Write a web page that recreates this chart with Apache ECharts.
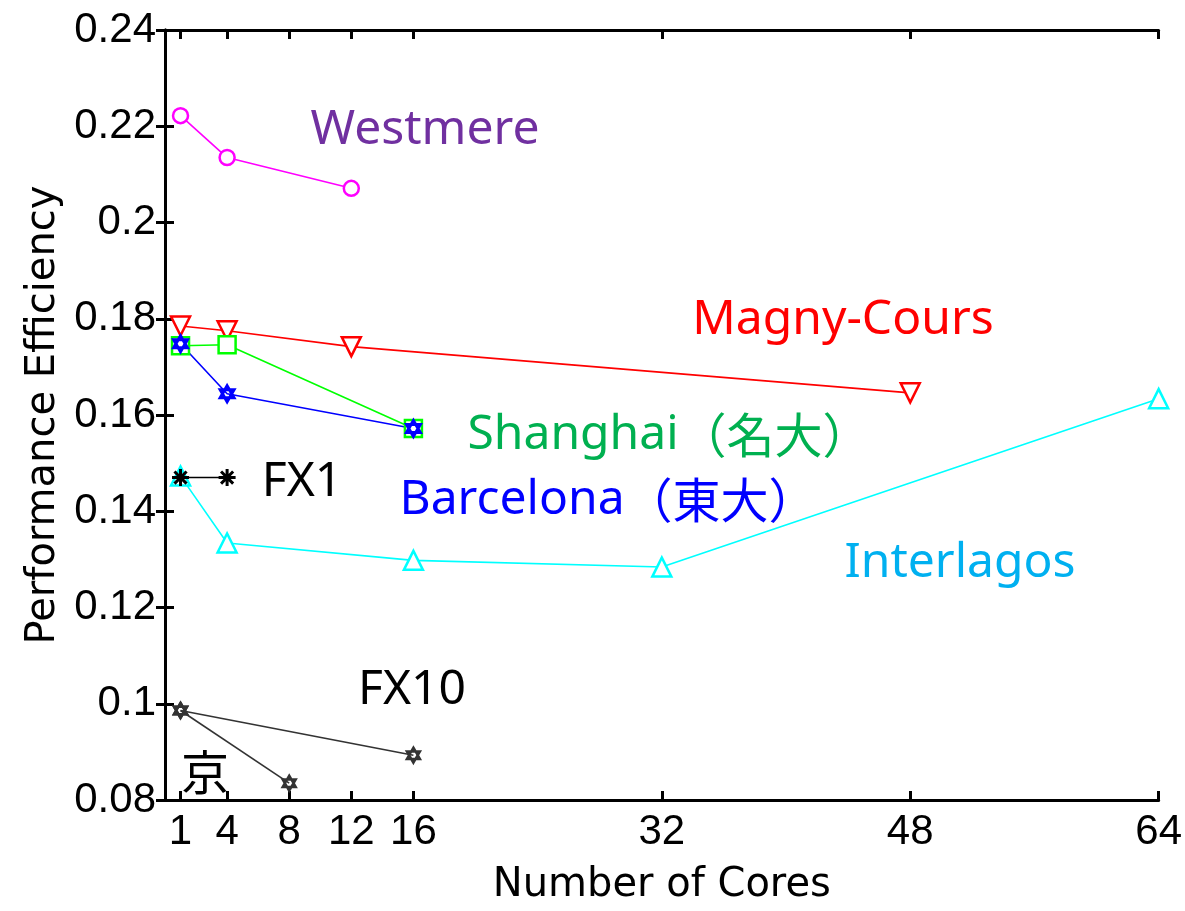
<!DOCTYPE html>
<html><head><meta charset="utf-8">
<script src="https://cdn.jsdelivr.net/npm/echarts@6/dist/echarts.min.js"></script>
<style>html,body{margin:0;padding:0;background:#fff}#c{width:1185px;height:911px}</style>
</head><body><div id="c"></div>
<script>
// ---- data ----
const xTicks = [1, 4, 8, 12, 16, 32, 48, 64];
const westmereX = [1, 4, 12];
const westmereY = [0.2222, 0.2135, 0.2071];
const magnyX = [1, 4, 12, 48];
const magnyY = [0.1785, 0.1775, 0.1742, 0.1646];
const shanghaiX = [1, 4, 16];
const shanghaiY = [0.1744, 0.1746, 0.1572];
const barcelonaX = [1, 4, 16];
const barcelonaY = [0.1748, 0.1644, 0.1572];
const fx1X = [1, 4];
const fx1Y = [0.147, 0.147];
const interlagosX = [1, 4, 16, 32, 64];
const interlagosY = [0.1473, 0.1334, 0.1298, 0.1284, 0.1634];
const fx10X = [1, 16];
const fx10Y = [0.0986, 0.0893];
const kX = [1, 8];
const kY = [0.0986, 0.0835];
const labels = ['Westmere', 'Magny-Cours', 'Shanghai', '（名大）', 'Barcelona', '（東大）', 'Interlagos', 'FX1', 'FX10', '京'];

const zip = (xs, ys) => xs.map((x, i) => [x, ys[i]]);
const hexagram = 'path://M0,-10L8.66,5L-8.66,5Z M0,10L8.66,-5L-8.66,-5Z';
const asterisk = 'path://M-9,0L9,0M0,-9L0,9M-6.4,-6.4L6.4,6.4M-6.4,6.4L6.4,-6.4';

function mk(name, xs, ys, color, symbol, size, rot, lw, bw) {
  return {
    name, type: 'line', data: zip(xs, ys), symbol, symbolSize: size, symbolRotate: rot || 0,
    symbolKeepAspect: true, showAllSymbol: true, animation: false,
    lineStyle: { color, width: lw || 1.6 },
    itemStyle: { color: '#fff', borderColor: color, borderWidth: bw || 2.5 },
    z: 3
  };
}

const chart = echarts.init(document.getElementById('c'));
const tickFont = { fontFamily: 'Liberation Sans', fontSize: 42, color: '#000' };
const axisLine = { show: true, lineStyle: { color: '#000', width: 3 } };
const tick = { show: true, inside: true, length: 9, lineStyle: { color: '#000', width: 3 } };
const nameFont = { fontFamily: 'DejaVu Sans', fontSize: 40, color: '#000' };

chart.setOption({
  backgroundColor: '#fff',
  animation: false,
  grid: { left: 165, right: 25, top: 30, bottom: 108, containLabel: false },
  xAxis: [
    { type: 'value', min: 0, max: 64, position: 'bottom',
      axisLine, axisTick: { ...tick, customValues: xTicks },
      axisLabel: { ...tickFont, margin: 11, customValues: xTicks, hideOverlap: false },
      splitLine: { show: false },
      name: 'Number of Cores', nameLocation: 'middle', nameGap: 66, nameTextStyle: nameFont },
    { type: 'value', min: 0, max: 64, position: 'top',
      axisLine, axisTick: { ...tick, customValues: xTicks },
      axisLabel: { show: false }, splitLine: { show: false } }
  ],
  yAxis: [
    { type: 'value', min: 0.08, max: 0.24, interval: 0.02, position: 'left',
      axisLine, axisTick: tick,
      axisLabel: { ...tickFont, margin: 9 },
      splitLine: { show: false },
      name: 'Performance Efficiency', nameLocation: 'middle', nameGap: 98, nameTextStyle: nameFont },
    { type: 'value', min: 0.08, max: 0.24, interval: 0.02, position: 'right',
      axisLine, axisTick: tick, axisLabel: { show: false }, splitLine: { show: false } }
  ],
  series: [
    mk('Westmere', westmereX, westmereY, '#FF00FF', 'circle', 15),
    mk('Magny-Cours', magnyX, magnyY, '#FF0000', 'triangle', 19, 180),
    mk('Shanghai', shanghaiX, shanghaiY, '#00FF00', 'rect', 17),
    mk('Barcelona', barcelonaX, barcelonaY, '#0000FF', hexagram, 16, 0, 1.6, 3),
    mk('Interlagos', interlagosX, interlagosY, '#00FFFF', 'triangle', 19),
    mk('FX1', fx1X, fx1Y, '#000000', asterisk, 17, 0, 1.6, 3),
    mk('FX10', fx10X, fx10Y, '#333333', hexagram, 15, 0, 1.6),
    mk('京', kX, kY, '#333333', hexagram, 15, 0, 1.6)
  ]
});

const annFont = '"Noto Sans", "Noto Sans CJK JP", sans-serif';
const cjkFont = '"Noto Sans CJK JP", sans-serif';
const ann = [
  [[labels[0]], 425, 130, '#7030A0'],
  [[labels[1]], 843, 320, '#FF0000'],
  [[labels[2], labels[3]], 669, 435, '#00B050'],
  [[labels[4], labels[5]], 608, 500, '#0000FF'],
  [[labels[6]], 960, 563, '#00B0F0'],
  [[labels[7]], 302, 482, '#000000'],
  [[labels[8]], 412, 690, '#000000'],
  [[labels[9]], 205, 772, '#000000']
];
chart.setOption({
  graphic: ann.map(a => ({
    type: 'text', x: a[1], y: a[2], z: 10,
    style: {
      text: a[0].length > 1 ? '{l|' + a[0][0] + '}{c|' + a[0][1] + '}' : (a[0][0] === '京' ? '{c|京}' : '{l|' + a[0][0] + '}'),
      align: 'center', verticalAlign: 'middle',
      rich: {
        l: { fill: a[3], font: '48px ' + annFont },
        c: { fill: a[3], font: '48px ' + cjkFont }
      }
    }
  }))
});
</script></body></html>
